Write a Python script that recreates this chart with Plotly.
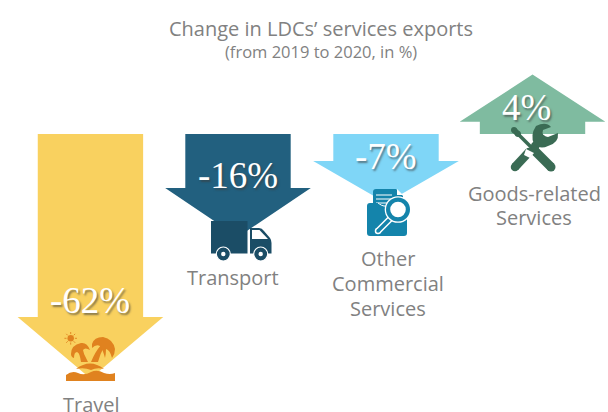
import plotly.graph_objects as go
import math

# ---- data ----
categories = ["Travel", "Transport", "Other<br>Commercial<br>Services", "Goods-related<br>Services"]
changes = [-62, -16, -7, 4]
value_labels = ["-62%", "-16%", "-7%", "4%"]
title_text = "Change in LDCs’ services exports"
subtitle_text = "(from 2019 to 2020, in %)"

# ---- arrow drawing (category-index x axis, percent-like y axis) ----
x_slots = [0.003, 1.0, 2.0, 2.99]
shoulders = [-61.0, -18.0, -9.0, 4.1]
tips = [-81.5, -34.3, -23.0, 19.8]
SHAFT_HALF = 0.356
HEAD_HALF = 0.492
colors = ["#F9D15F", "#22607F", "#7FD6F7", "#7FBBA0"]

W, H = 608, 412
X0, XU = 90, 148      # px of slot 0, px per slot
Y0, YU = 134, 3       # px of zero line, px per percent unit

fig = go.Figure()
for name, xc, sh, tip, col in zip(categories, x_slots, shoulders, tips, colors):
    xs = [xc - SHAFT_HALF, xc + SHAFT_HALF, xc + SHAFT_HALF, xc + HEAD_HALF, xc,
          xc - HEAD_HALF, xc - SHAFT_HALF, xc - SHAFT_HALF]
    ys = [0, 0, sh, sh, tip, sh, sh, 0]
    fig.add_trace(go.Scatter(x=xs, y=ys, mode="lines", fill="toself", fillcolor=col,
                             line=dict(color=col, width=0), hoverinfo="skip",
                             name=name.replace("<br>", " "), showlegend=False))
# pixel-space overlay axes carry the decorations
fig.add_trace(go.Scatter(x=[0, W], y=[0, H], xaxis="x2", yaxis="y2", mode="markers",
                         marker=dict(opacity=0), hoverinfo="skip", showlegend=False))

shapes = []
def path(d, fill, line=None, w=0):
    shapes.append(dict(type="path", path=d, xref="x2", yref="y2", layer="above", fillcolor=fill,
                       line=dict(color=line or fill, width=w)))
def circ(cx, cy, r, fill, line=None, w=0):
    shapes.append(dict(type="circle", x0=cx-r, x1=cx+r, y0=cy-r, y1=cy+r, xref="x2", yref="y2",
                       layer="above", fillcolor=fill, line=dict(color=line or fill, width=w)))
def poly(pts, fill):
    path("M" + " L".join(f"{a},{b}" for a, b in pts) + " Z", fill)
def capsule(x1, y1, x2, y2, w, fill):
    dx, dy = x2-x1, y2-y1
    n = math.hypot(dx, dy)
    ox, oy = -dy/n*w/2, dx/n*w/2
    poly([(x1+ox, y1+oy), (x2+ox, y2+oy), (x2-ox, y2-oy), (x1-ox, y1-oy)], fill)
    circ(x1, y1, w/2, fill)
    circ(x2, y2, w/2, fill)
def wline(d, color, w):
    shapes.append(dict(type="path", path=d, xref="x2", yref="y2", layer="above",
                       line=dict(color=color, width=w)))

# palm island
OR = "#E0821F"
circ(70.7, 338.3, 3.2, OR)
for k in range(8):
    a = k*math.pi/4
    wline(f"M{70.7+4.2*math.cos(a)},{338.3+4.2*math.sin(a)} L{70.7+6.3*math.cos(a)},{338.3+6.3*math.sin(a)}", OR, 0.9)
path("M81,362 Q80,354 76,348 L79,347 Q85,354 88,362 Z", OR)
path("M91,362 Q95,352 101,345 L104,347 Q100,354 98,362 Z", OR)
path("M71,354 Q71,345 81,343 Q87,342 90,350 Q85,347 83,350 Q85,356 83,360 Q80,353 77,352 Q74,352 74,358 Q71,357 71,354 Z", OR)
path("M92,344 Q94,337 103,337 Q113,339 115,349 Q115,354 112,358 Q110,350 106,349 Q106,354 105,358 Q103,350 100,346 Q96,344 92,348 Z", OR)
path("M76,369 Q90,358 104,369 Q97,367 91,370 Q84,367 76,369 Z", OR)
path("M66,375 Q72,370 78,373 Q84,376 91,372 Q97,369 104,373 Q110,375 115,373 L115,381 L66,381 Z", OR)

# truck
TR = "#1B4D66"
poly([(211, 221), (247.5, 221), (247.5, 253.5), (211, 253.5)], TR)
path("M250,228 L259,228 Q262,228 264,231 L270,238 Q271.5,240 271.5,243 L271.5,253.5 L250,253.5 Z", TR)
poly([(252, 230), (259.5, 230), (268, 239), (252, 239)], "#FFFFFF")
for wx in (223.3, 260.7):
    circ(wx, 254, 7, TR, "#FFFFFF", 1.2)
    circ(wx, 254, 2.2, "#FFFFFF")

# document and magnifier
DO = "#1484AB"
path("M373,192 Q373,189 376,189 L396,189 L403,196 L403,215 L373,215 Z", DO)
poly([(397, 189), (397, 195), (403, 195)], "#FFFFFF")
for ly, xr in ((195, 392), (199, 392), (203, 388)):
    wline(f"M376,{ly} L{xr},{ly}", "#FFFFFF", 1)
path("M370,203 L378,203 Q381,203 383,207 L407,207 L407,233 Q407,236 404,236 L370,236 Q367,236 367,233 L367,206 Q367,203 370,203 Z", DO, "#FFFFFF", 0)
wline("M378,203 Q382,206 384,206 L387,206", "#FFFFFF", 1)
capsule(391, 218, 378, 231, 6.5, "#FFFFFF")
capsule(391, 218, 378, 231, 3.6, DO)
circ(398, 209.5, 13.3, "#FFFFFF")
circ(398, 209.5, 12, DO)
circ(398, 209.5, 7.8, "#FFFFFF")

# tools
TL = "#3A6B54"
capsule(514, 130, 518, 134, 6, TL)
capsule(516, 132, 551, 167, 3.5, TL)
capsule(535, 151, 551, 167, 9, TL)
capsule(529, 152, 515, 167, 8.5, TL)
poly([(526, 149), (534, 153), (530, 158), (524, 155)], "#FFFFFF")
capsule(535, 146, 542, 139, 8, TL)
path("M536,126 Q546,121 551,127 L543,130 Q541,136 548,137 L558,133 Q559,143 548,146 Q540,150 534,144 Q530,135 536,126 Z", TL)

# ---- text ----
SANS = "'Open Sans', sans-serif"
GREY = "#818181"
def ann(x, y, text, size, color=GREY, family=SANS, shadow=None):
    f = dict(size=size, color=color, family=family)
    if shadow:
        f["shadow"] = shadow
    return dict(x=x, y=y, xref="x2", yref="y2", text=text, showarrow=False, font=f,
                xanchor="center", yanchor="middle", align="center")

annotations = [ann(320.5, 28.5, title_text, 20), ann(321, 51, subtitle_text, 16.5)]
label_lines = [[(91, 404)], [(233, 277)], [(388, 258), (388, 283), (388, 308)], [(534, 193), (534, 217)]]
for pos, cat in zip(label_lines, categories):
    for (lx, ly), line in zip(pos, cat.split("<br>")):
        annotations.append(ann(lx, ly, line, 20))
value_pos = [(90, 300), (238, 175), (386, 156), (526, 107)]
for (vx, vy), lab in zip(value_pos, value_labels):
    annotations.append(ann(vx, vy, lab, 37, "#FFFFFF", "'Liberation Serif', serif", "1.5px 1.5px 2px rgba(60,60,60,0.6)"))

fig.update_layout(
    width=W, height=H, margin=dict(l=0, r=0, t=0, b=0),
    paper_bgcolor="#FFFFFF", plot_bgcolor="#FFFFFF", showlegend=False,
    autosize=False,
    xaxis=dict(range=[-X0/XU, (W-X0)/XU], visible=False, fixedrange=True),
    yaxis=dict(range=[(Y0-H)/YU, Y0/YU], visible=False, fixedrange=True),
    xaxis2=dict(range=[0, W], visible=False, overlaying="x", fixedrange=True),
    yaxis2=dict(range=[H, 0], visible=False, overlaying="y", fixedrange=True),
    shapes=shapes, annotations=annotations,
)
fig.write_html("out.html", config=dict(displayModeBar=False),
               post_script="document.body.style.margin='0';document.body.style.overflow='hidden';")
